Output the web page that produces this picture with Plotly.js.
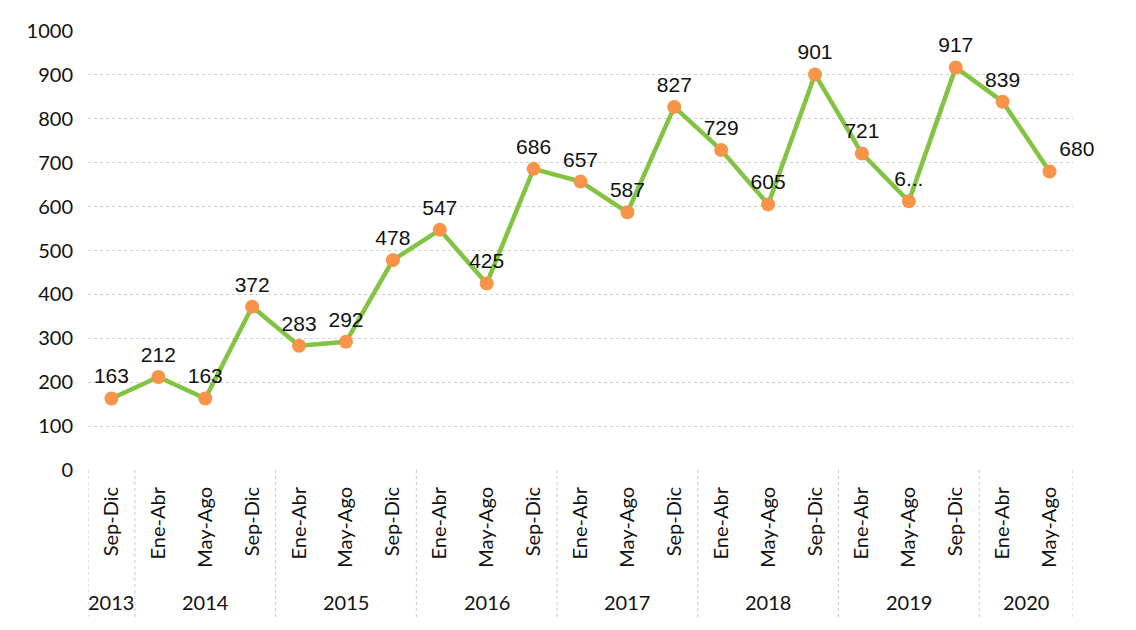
<!DOCTYPE html>
<html>
<head>
<meta charset="utf-8">
<script src="https://cdn.plot.ly/plotly-3.0.1.min.js"></script>
<style>html,body{margin:0;padding:0;background:#fff;}#chart{width:1136px;height:630px;}</style>
</head>
<body>
<div id="chart"></div>
<script>
const years = ["2013","2014","2014","2014","2015","2015","2015","2016","2016","2016","2017","2017","2017","2018","2018","2018","2019","2019","2019","2020","2020"];
const periods = ["Sep-Dic","Ene-Abr","May-Ago","Sep-Dic","Ene-Abr","May-Ago","Sep-Dic","Ene-Abr","May-Ago","Sep-Dic","Ene-Abr","May-Ago","Sep-Dic","Ene-Abr","May-Ago","Sep-Dic","Ene-Abr","May-Ago","Sep-Dic","Ene-Abr","May-Ago"];
const values = [163,212,163,372,283,292,478,547,425,686,657,587,827,729,605,901,721,612,917,839,680];
const labels = ["163","212","163","372","283","292","478","547","425","686","657","587","827","729","605","901","721","6...","917","839","680"];
const yTicks = [0,100,200,300,400,500,600,700,800,900,1000];

const idx = periods.map((_, i) => i);

// year groups computed from the data arrays
const groups = [];
years.forEach((y, i) => {
  const g = groups[groups.length - 1];
  if (g && g.year === y) g.end = i; else groups.push({year: y, start: i, end: i});
});

const lblFont = "Lato, 'Open Sans', sans-serif";

const annotations = groups.map(g => ({
  x: (g.start + g.end) / 2, xref: "x",
  y: -0.30, yref: "paper",
  text: g.year, showarrow: false,
  xanchor: "center", yanchor: "middle",
  font: {family: lblFont, size: 20, color: "#111"}
}));

const shapes = [];
groups.forEach((g, k) => {
  shapes.push({type: "line", xref: "x", yref: "paper", x0: g.start - 0.5, x1: g.start - 0.5, y0: 0, y1: -0.335,
    line: {color: "#c8c8c8", width: 1, dash: "dot"}});
  if (k === groups.length - 1) {
    shapes.push({type: "line", xref: "x", yref: "paper", x0: g.end + 0.5, x1: g.end + 0.5, y0: 0, y1: -0.335,
      line: {color: "#c8c8c8", width: 1, dash: "dot"}});
  }
});

const textPos = labels.map((_, i) => i === labels.length - 1 ? "top right" : "top center");

const trace = {
  type: "scatter",
  mode: "lines+markers+text",
  x: idx,
  y: values,
  text: labels,
  textposition: textPos,
  textfont: {family: "Liberation Sans, Arial, sans-serif", size: 21, color: "#111"},
  line: {color: "#82c341", width: 4.5},
  marker: {color: "#f7944a", size: 14},
  cliponaxis: false,
  hoverinfo: "y"
};

const layout = {
  width: 1136, height: 630,
  margin: {l: 88, r: 63, t: 31, b: 160},
  paper_bgcolor: "#fff", plot_bgcolor: "#fff",
  showlegend: false,
  xaxis: {
    type: "linear",
    range: [-0.5, periods.length - 0.5],
    tickvals: idx,
    ticktext: periods,
    tickangle: -90,
    tickfont: {family: lblFont, size: 20, color: "#111"},
    showgrid: false,
    showline: false,
    zeroline: false,
    ticks: "",
    ticklabelstandoff: 12
  },
  yaxis: {
    range: [0, 1000],
    tickvals: yTicks,
    ticktext: yTicks.map(String),
    tickfont: {family: lblFont, size: 20, color: "#111"},
    showgrid: true,
    gridcolor: "#cfcfcf",
    griddash: "dot",
    gridwidth: 1,
    zeroline: false,
    showline: false,
    ticks: "",
    ticklabelstandoff: 14
  },
  annotations: annotations,
  shapes: shapes
};

Plotly.newPlot("chart", [trace], layout, {displayModeBar: false, staticPlot: true});
</script>
</body>
</html>
